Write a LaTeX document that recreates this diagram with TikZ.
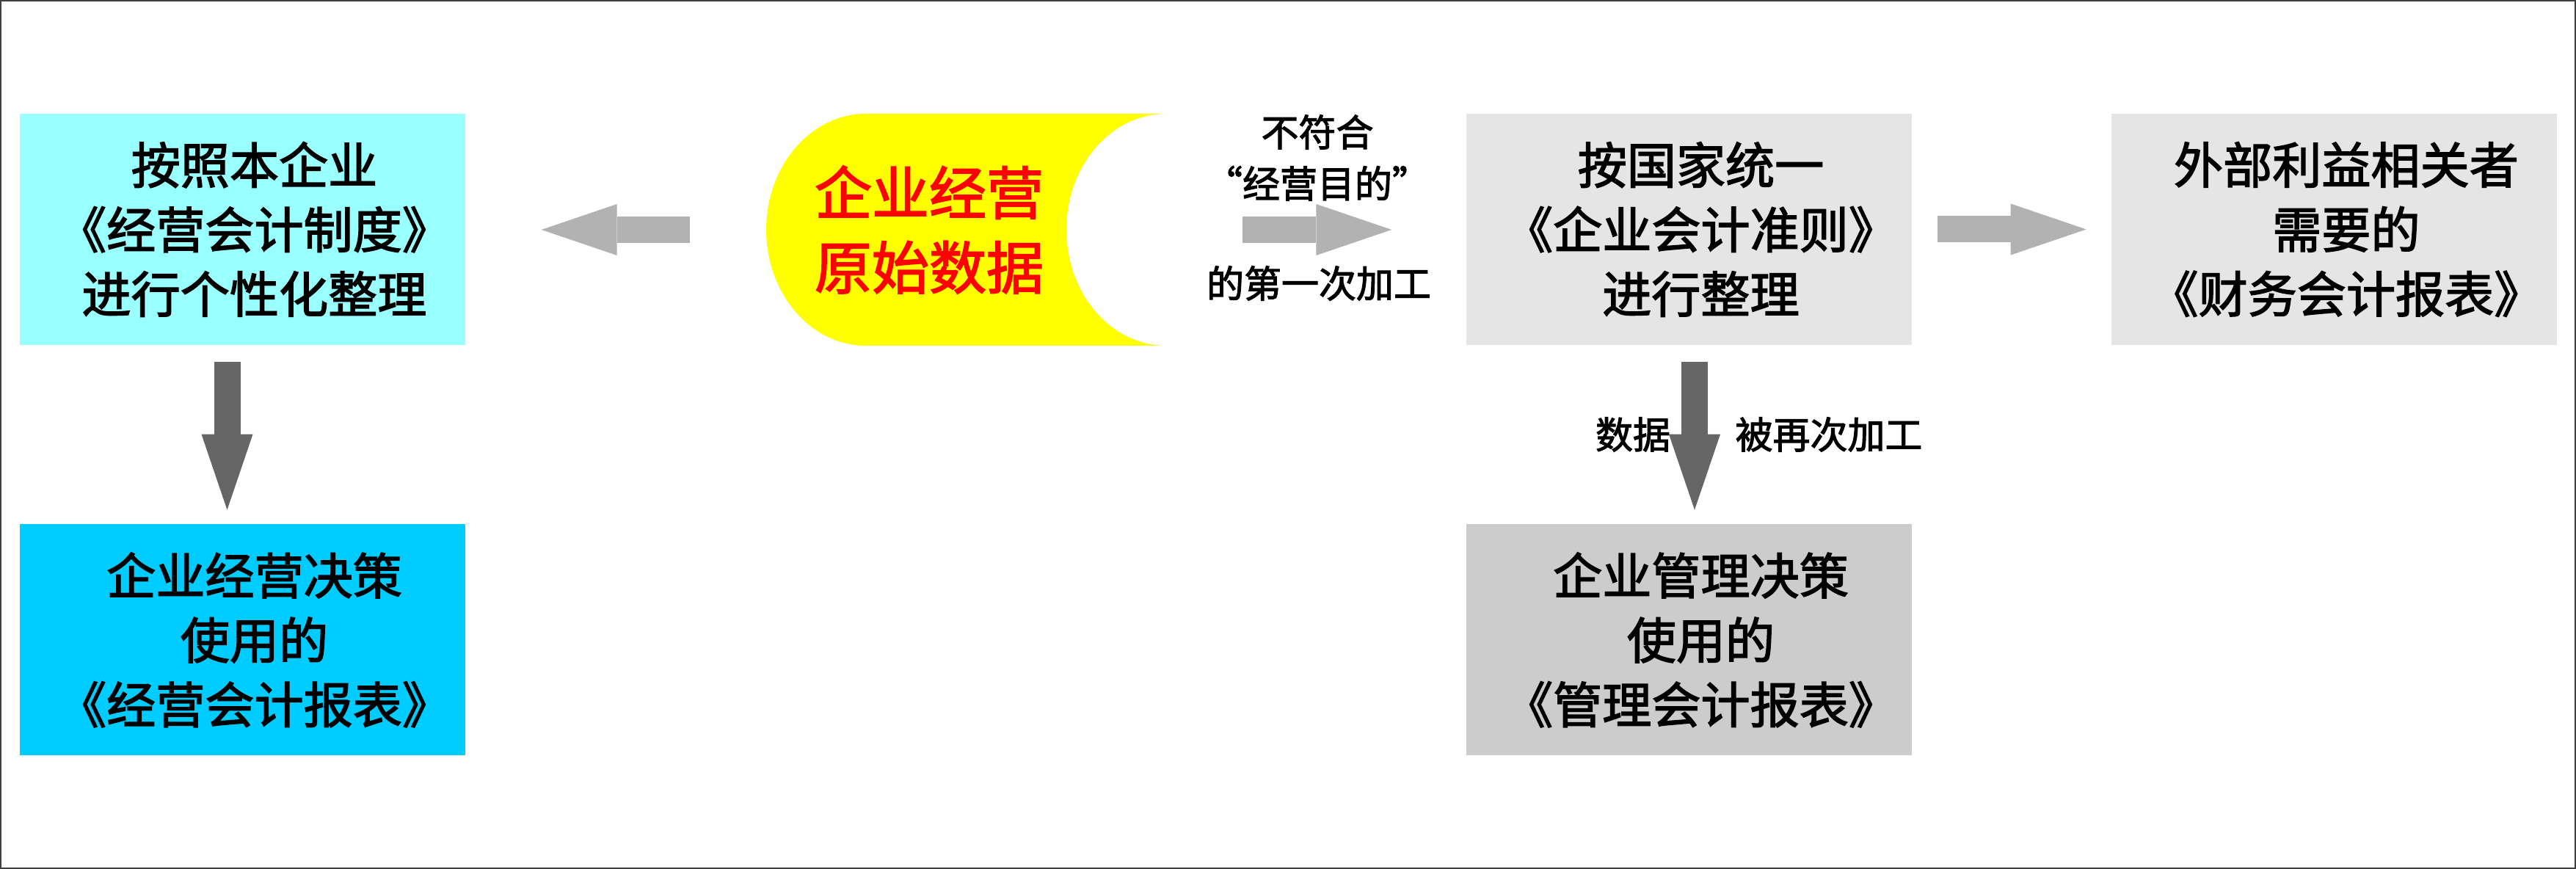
\documentclass[tikz,border=0pt]{standalone}
\usepackage{fontspec}
\newfontfamily\cjk[FakeBold=2.2, CharacterWidth=Full]{Noto Sans CJK SC}
\usetikzlibrary{arrows.meta, positioning}
\definecolor{owncyan}{RGB}{153,255,255}
\definecolor{repcyan}{RGB}{0,204,255}
\definecolor{stdgray}{RGB}{229,229,229}
\definecolor{mgmtgray}{RGB}{204,204,204}
\definecolor{lightarrow}{RGB}{178,178,178}
\definecolor{darkarrow}{RGB}{102,102,102}
\definecolor{rawyellow}{RGB}{255,255,0}
\definecolor{rawred}{RGB}{255,0,0}
\newcommand{\boxtext}{\fontsize{19.1pt}{25pt}\selectfont}
\newcommand{\rawtext}{\fontsize{22.2pt}{29pt}\selectfont}
\newcommand{\lbltext}{\fontsize{14.5pt}{19.9pt}\selectfont}
% lines centred a little right of the box middle
\newcommand{\boxlines}{\parindent=0pt\parfillskip=0pt
  \leftskip=0.32cm plus 1fil\rightskip=0pt plus 1fil}

\begin{document}
\begin{tikzpicture}[
  font=\cjk,
  box/.style={
    rectangle,
    minimum width=6.07cm,
    minimum height=3.15cm,
    text width=6.07cm,
    inner sep=0pt,
    font=\cjk\boxtext,
    execute at begin node=\boxlines,
    text=black,
  },
  ownbox/.style={box, fill=owncyan},
  ownrep/.style={box, fill=repcyan},
  stdbox/.style={box, fill=stdgray},
  mgmtbox/.style={box, fill=mgmtgray},
  lbl/.style={font=\cjk\lbltext, align=center, inner sep=0pt},
  rawlbl/.style={font=\cjk\rawtext, align=center, inner sep=0pt, text=rawred},
  flow/.style={line width=3.6mm, -{Triangle[length=10.3mm, width=7mm, line width=0pt]}},
  side/.style={flow, draw=lightarrow},
  down/.style={flow, draw=darkarrow},
]
\useasboundingbox (0,0) rectangle (35.10,-11.84);
\draw[black!75, line width=0.2mm] (0.01,-0.01) rectangle (35.09,-11.83);

% ---- the raw data, a yellow drum open on the right ------------------------
\fill[rawyellow] (15.89,-1.55) -- (11.80,-1.55)
  arc[start angle=90, end angle=270, x radius=1.36, y radius=1.58]
  -- (15.89,-4.71)
  arc[start angle=270, end angle=90, x radius=1.36, y radius=1.58]
  -- cycle;
\node[rawlbl] (raw) at (12.66,-3.13) {企业经营\\原始数据};
\coordinate (rawL) at (10.44,-3.13);
\coordinate (rawR) at (15.89,-3.13);

% ---- left branch: own rules -----------------------------------------------
\node[ownbox] (own) at (3.305,-3.125)
  {按照本企业\\《经营会计制度》\\进行个性化整理};
\node[ownrep, below=2.43cm of own] (ownrpt)
  {企业经营决策\\使用的\\《经营会计报表》};

\draw[side, shorten <=1.04cm, shorten >=1.03cm] (rawL) -- (own.east |- rawL);
\draw[down, shorten <=0.22cm, shorten >=0.19cm]
  ([xshift=-2.1mm]own.south) -- ([xshift=-2.1mm]ownrpt.north);

% ---- right branch: national standard --------------------------------------
\node[stdbox] (std) at (23.015,-3.125)
  {按国家统一\\《企业会计准则》\\进行整理};
\node[stdbox, right=2.71cm of std] (ext)
  {外部利益相关者\\需要的\\《财务会计报表》};
\node[mgmtbox, below=2.43cm of std] (mgmt)
  {企业管理决策\\使用的\\《管理会计报表》};

\draw[side, shorten <=1.04cm, shorten >=1.01cm] (rawR) -- (std.west |- rawR);
\node[lbl] (unfit) at (17.95,-2.15) {不符合\\“经营目的”};
\node[lbl] (first) at (17.97,-3.86) {的第一次加工};

\draw[side, shorten <=0.34cm, shorten >=0.34cm] (std) -- (ext);

\draw[down, shorten <=0.22cm, shorten >=0.19cm]
  ([xshift=0.75mm]std.south) -- ([xshift=0.75mm]mgmt.north);
\node[lbl] (data) at (22.25,-5.92) {数据};
\node[lbl] (again) at (24.92,-5.92) {被再次加工};

\end{tikzpicture}
\end{document}
